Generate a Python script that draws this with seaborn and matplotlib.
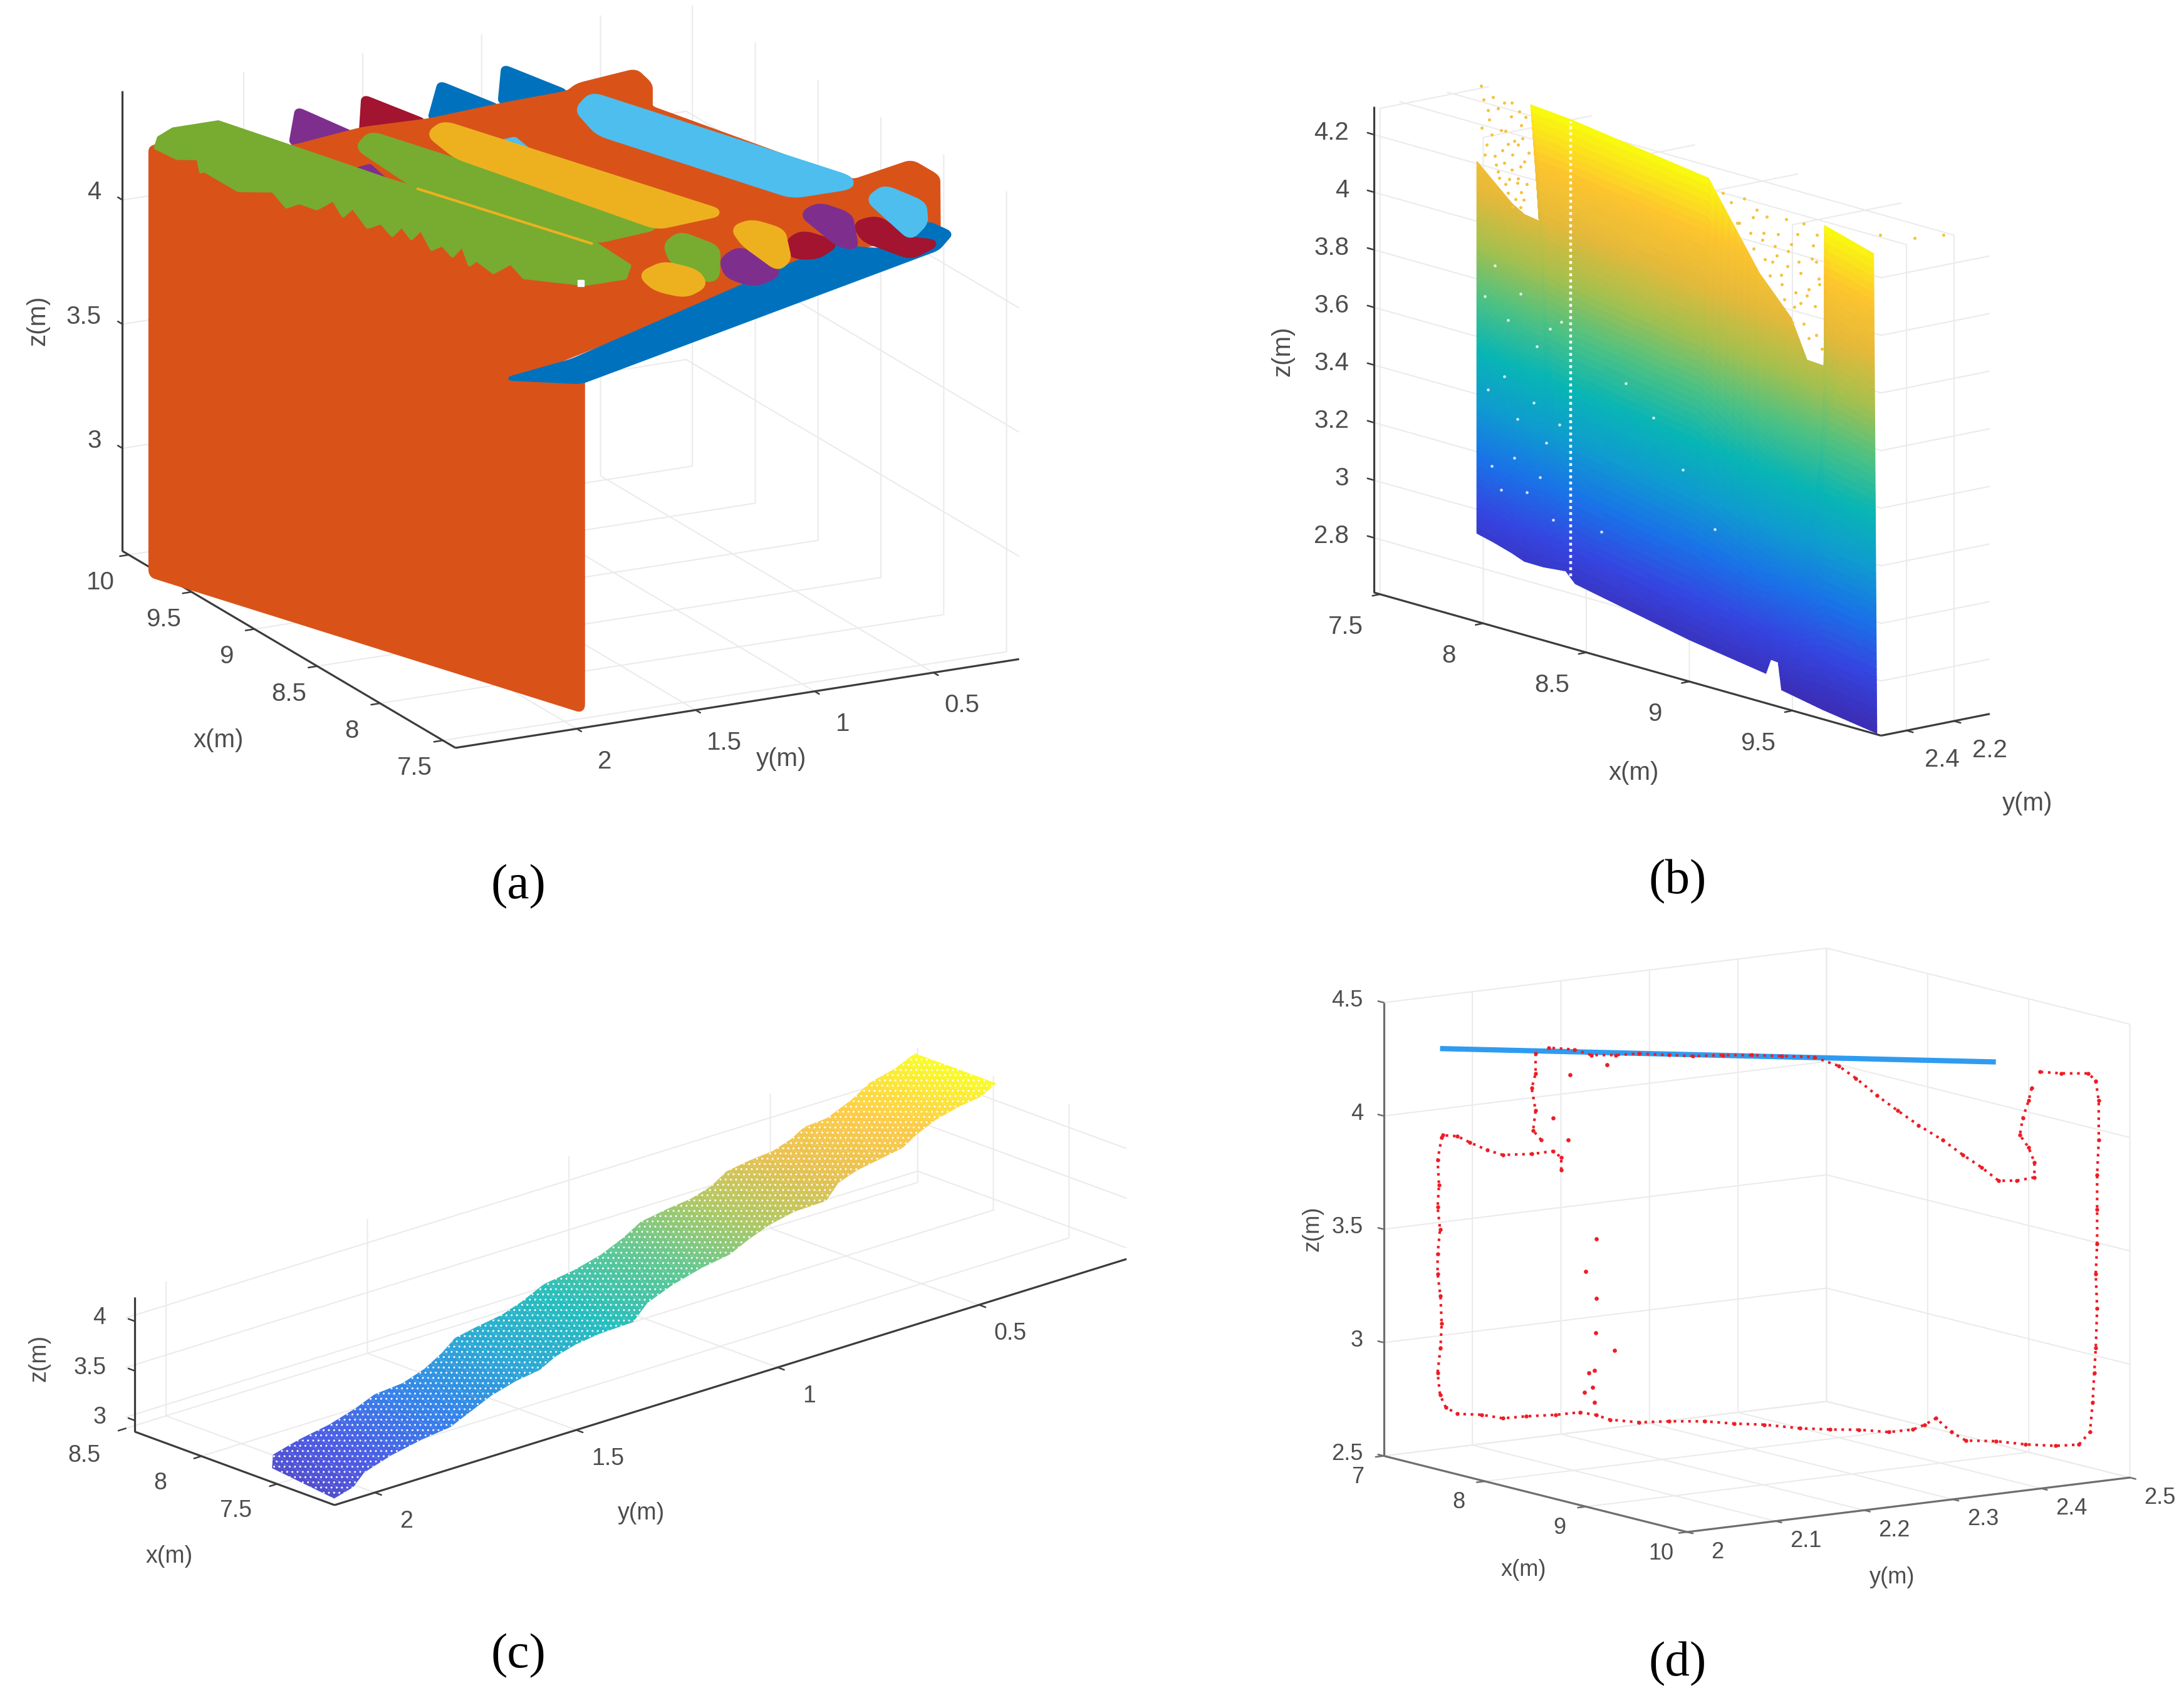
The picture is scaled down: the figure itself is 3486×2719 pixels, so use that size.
#Point cloud segmentation figure, four 3D panels

import numpy as np
from matplotlib import pyplot as plt
import seaborn as sns
from mpl_toolkits.mplot3d import proj3d
from mpl_toolkits.mplot3d.art3d import Poly3DCollection

# Panel (a) - outlines of the segmented clusters, x / y / z in metres
wall_a = ([9.72, 7.567, 7.567, 9.72], [2.562, 1.893, 1.893, 2.562], [2.6, 2.6, 3.94, 4.32])
roof_a = ([9.55, 9.60, 9.58, 9.62, 9.63, 9.68, 9.71, 9.60, 9.43, 8.67, 8.73, 8.61, 8.23, 8.18, 7.63, 8.365, 9.72],
          [2.06, 1.74, 1.47, 1.165, 0.858, 0.791, 0.534, 0.534, 0.624, 0.169, -0.109, -0.152, 0.047, 0.557, 2.17, 2.686, 2.562],
          [4.29, 4.30, 4.30, 4.30, 4.305, 4.31, 4.32, 4.30, 4.27, 4.13, 4.15, 4.12, 4.06, 4.05, 3.95, 4.08, 4.32])
strip_a = ([7.64, 7.70, 8.17, 8.23, 8.14, 8.28, 8.18, 8.09, 7.53],
           [2.17, 1.865, 0.616, 0.515, 0.317, 0.059, 0.013, 0.117, 1.914],
           [3.95, 3.96, 4.05, 4.06, 4.04, 4.07, 4.05, 4.03, 3.93])
purple_fin = ([9.59, 9.81, 9.56, 9.48], [2.04, 1.90, 1.78, 1.83], [4.30, 4.34, 4.29, 4.28])
crimson_fin = ([9.60, 9.83, 9.59, 9.52], [1.74, 1.61, 1.49, 1.55], [4.30, 4.34, 4.30, 4.285])
blue_fin_1 = ([9.62, 9.85, 9.62, 9.57], [1.44, 1.28, 1.165, 1.21], [4.30, 4.34, 4.30, 4.29])
blue_fin_2 = ([9.65, 9.89, 9.64, 9.58], [1.13, 0.99, 0.87, 0.91], [4.31, 4.35, 4.31, 4.30])
sky_long = ([9.51, 9.59, 8.69, 8.64, 8.64, 9.315], [0.881, 0.782, 0.171, 0.196, 0.44, 0.898], [4.28, 4.30, 4.14, 4.13, 4.13, 4.25])
sky_small = ([9.36, 9.37, 9.28], [1.29, 1.22, 1.21], [4.26, 4.26, 4.24])
sky_end = ([8.52, 8.59, 8.43, 8.285, 8.21], [0.18, 0.08, 0.0, 0.07, 0.17], [4.11, 4.12, 4.09, 4.07, 4.05])
yellow_long = ([9.50, 9.56, 8.60, 8.56, 9.31], [1.51, 1.42, 0.76, 1.05, 1.50], [4.28, 4.29, 4.12, 4.12, 4.25])
green_upper = ([9.48, 9.57, 8.56, 8.54, 9.11], [1.82, 1.72, 1.05, 1.32, 1.75], [4.28, 4.29, 4.12, 4.11, 4.21])
green_lower = ([9.78, 9.82, 9.82, 9.56, 9.22, 8.51, 8.32, 8.23, 8.23, 8.35, 8.475, 8.51, 8.54, 8.605, 8.67, 8.675, 8.68, 8.755, 8.83, 8.85, 8.87, 8.89, 8.91, 8.99, 9.07, 9.10, 9.13, 9.14, 9.155, 9.21, 9.27, 9.385, 9.50, 9.54, 9.58, 9.645, 9.71],
               [2.50, 2.42, 2.23, 2.055, 1.84, 1.34, 1.295, 1.36, 1.53, 1.72, 1.71, 1.765, 1.82, 1.815, 1.81, 1.85, 1.89, 1.895, 1.90, 1.93, 1.96, 1.99, 2.025, 2.04, 2.06, 2.085, 2.11, 2.175, 2.24, 2.265, 2.29, 2.375, 2.46, 2.45, 2.44, 2.495, 2.55],
               [4.33, 4.34, 4.34, 4.29, 4.23, 4.11, 4.07, 4.06, 4.06, 4.08, 4.10, 4.06, 4.11, 4.07, 4.13, 4.09, 4.14, 4.10, 4.16, 4.12, 4.17, 4.13, 4.18, 4.14, 4.20, 4.16, 4.22, 4.19, 4.22, 4.19, 4.24, 4.22, 4.28, 4.26, 4.30, 4.29, 4.32])
yellow_thin = ([9.12, 8.51], [1.76, 1.35], [4.21, 4.11])
purple_small = ([9.33, 9.35, 9.22], [1.92, 1.84, 1.84], [4.25, 4.25, 4.23])
green_blob = ([8.43, 8.49, 8.33, 8.145, 8.12, 8.31], [1.08, 0.99, 0.92, 1.02, 1.07, 1.12], [4.09, 4.10, 4.08, 4.04, 4.04, 4.07])
yellow_blob_1 = ([8.23, 8.28, 8.19, 8.10, 8.05, 8.12], [1.29, 1.17, 1.08, 1.095, 1.20, 1.29], [4.06, 4.07, 4.05, 4.03, 4.02, 4.04])
purple_blob_1 = ([8.25, 8.31, 8.18, 8.09, 8.05, 8.13], [0.94, 0.84, 0.78, 0.79, 0.91, 0.98], [4.06, 4.07, 4.05, 4.03, 4.02, 4.04])
yellow_blob_2 = ([8.46, 8.50, 8.39, 8.18, 8.13, 8.34], [0.78, 0.685, 0.615, 0.70, 0.77, 0.80], [4.10, 4.10, 4.085, 4.05, 4.04, 4.08])
crimson_blob_1 = ([8.31, 8.35, 8.235, 8.16, 8.21], [0.63, 0.55, 0.47, 0.59, 0.67], [4.07, 4.08, 4.06, 4.05, 4.05])
purple_blob_2 = ([8.50, 8.54, 8.43, 8.195, 8.23], [0.47, 0.38, 0.31, 0.41, 0.46], [4.10, 4.11, 4.09, 4.05, 4.06])
crimson_blob_2 = ([8.36, 8.38, 8.17, 8.13, 8.055, 8.24], [0.32, 0.22, 0.19, 0.10, 0.25, 0.35], [4.08, 4.08, 4.05, 4.04, 4.03, 4.06])
hole_a = ([8.24], [1.54], [4.06])

# Panel (b) - wall cloud, upper and lower edge stations
wall_top_x = [7.53, 7.63, 7.746, 7.824, 7.942, 7.863, 8.11, 8.961, 9.275, 9.471, 9.569, 9.765, 9.678, 9.98]
wall_top_y = [2.126, 2.144, 2.166, 2.181, 2.203, 2.188, 2.234, 2.393, 2.451, 2.487, 2.506, 2.542, 2.526, 2.582]
wall_top_z = [4.056, 4.011, 3.96, 3.94, 3.938, 4.33, 4.336, 4.331, 4.074, 3.964, 3.841, 3.848, 4.333, 4.306]
wall_bot_x = [7.53, 7.63, 7.746, 7.824, 7.942, 8.079, 8.138, 8.843, 9.314, 9.345, 9.392, 9.412, 9.667, 10.0]
wall_bot_y = [2.126, 2.144, 2.166, 2.181, 2.203, 2.228, 2.239, 2.371, 2.458, 2.464, 2.473, 2.476, 2.524, 2.586]
wall_bot_z = [2.765, 2.758, 2.747, 2.736, 2.744, 2.762, 2.731, 2.701, 2.694, 2.75, 2.751, 2.659, 2.65, 2.646]
gap_x = [8.11, 8.11]
gap_y = [2.234, 2.234]
gap_z = [2.75, 4.33]
# stray returns inside the window openings
stray_x = [7.557, 7.628, 7.746, 7.608, 7.706, 7.804, 7.589, 7.687, 7.785, 7.648, 7.746, 7.824, 7.706, 7.804, 7.667, 7.785,
           7.57, 7.60, 7.66, 7.70, 7.74, 7.79, 7.83, 7.56, 7.62, 7.68, 7.72, 7.76, 7.81, 7.58, 7.64, 7.70, 7.75, 7.80, 7.85, 7.66, 7.73, 7.78, 7.84, 7.72, 7.77, 7.82, 7.75, 7.80,
           9.137, 9.235, 9.294, 9.392, 9.451, 9.353, 9.51, 9.608, 9.412, 9.529, 9.627, 9.49, 9.568, 9.647, 9.549, 9.627, 10.02, 10.235, 10.41,
           9.05, 9.10, 9.18, 9.26, 9.32, 9.44, 9.55, 9.63, 9.15, 9.22, 9.30, 9.37, 9.47, 9.60, 9.24, 9.31, 9.38, 9.45, 9.52, 9.64, 9.34, 9.41, 9.50, 9.58, 9.43, 9.53, 9.62, 9.48, 9.58, 9.66]
stray_y = [2.131, 2.144, 2.166, 2.141, 2.159, 2.177, 2.137, 2.155, 2.173, 2.148, 2.166, 2.181, 2.159, 2.177, 2.152, 2.173,
           2.133, 2.139, 2.150, 2.158, 2.165, 2.174, 2.182, 2.132, 2.143, 2.154, 2.161, 2.169, 2.178, 2.135, 2.146, 2.158, 2.167, 2.176, 2.186, 2.150, 2.163, 2.173, 2.184, 2.161, 2.171, 2.180, 2.167, 2.176,
           2.425, 2.444, 2.455, 2.473, 2.484, 2.465, 2.495, 2.513, 2.476, 2.498, 2.517, 2.491, 2.506, 2.52, 2.502, 2.517, 2.59, 2.63, 2.66,
           2.409, 2.418, 2.433, 2.448, 2.459, 2.482, 2.502, 2.517, 2.428, 2.441, 2.456, 2.469, 2.487, 2.511, 2.444, 2.457, 2.470, 2.484, 2.497, 2.519, 2.463, 2.476, 2.493, 2.508, 2.480, 2.498, 2.515, 2.489, 2.508, 2.523]
stray_z = [4.324, 4.302, 4.31, 4.22, 4.204, 4.246, 4.128, 4.131, 4.173, 4.073, 4.077, 4.124, 4.019, 4.013, 4.03, 4.057,
           4.28, 4.25, 4.27, 4.30, 4.26, 4.29, 4.28, 4.18, 4.17, 4.20, 4.16, 4.18, 4.20, 4.09, 4.10, 4.09, 4.13, 4.10, 4.16, 4.05, 4.04, 4.04, 4.05, 3.99, 3.98, 3.99, 3.95, 3.96,
           4.216, 4.259, 4.195, 4.237, 4.192, 4.131, 4.264, 4.248, 4.067, 4.133, 4.195, 4.007, 4.064, 4.121, 3.963, 3.942, 4.38, 4.42, 4.47,
           4.30, 4.28, 4.31, 4.29, 4.28, 4.30, 4.31, 4.29, 4.22, 4.20, 4.22, 4.19, 4.22, 4.20, 4.15, 4.13, 4.16, 4.14, 4.17, 4.14, 4.08, 4.10, 4.06, 4.09, 4.02, 4.03, 4.04, 3.95, 3.92, 3.90]
# small dropouts in the cloud
fleck_x = [7.58, 7.64, 7.72, 7.80, 7.90, 7.98, 8.05, 7.60, 7.70, 7.78, 7.88, 7.96, 8.04, 7.62, 7.68, 7.76, 7.84, 7.92, 8.00, 8.45, 8.62, 8.80, 9.00, 8.30]
fleck_y = [2.135, 2.146, 2.161, 2.176, 2.195, 2.210, 2.223, 2.139, 2.158, 2.173, 2.191, 2.206, 2.221, 2.143, 2.154, 2.169, 2.184, 2.199, 2.214, 2.297, 2.329, 2.362, 2.400, 2.269]
fleck_z = [3.60, 3.72, 3.55, 3.66, 3.50, 3.58, 3.62, 3.28, 3.35, 3.22, 3.30, 3.18, 3.26, 3.02, 2.95, 3.08, 2.98, 3.05, 2.92, 3.50, 3.42, 3.28, 3.12, 2.95]

# Panel (c) - ceiling strip, two long edges
ceil_up_x = [7.56, 7.66, 7.70, 7.715, 7.755, 7.80, 7.79, 7.83, 7.90, 7.975, 7.99, 8.00, 8.04, 8.105, 8.11, 8.145, 8.21, 8.28, 8.29, 8.29, 8.32, 8.39, 8.395, 8.39, 8.42, 8.475, 8.47, 8.53, 8.61, 8.635, 8.69]
ceil_up_y = [2.09, 2.05, 1.97, 1.89, 1.81, 1.745, 1.68, 1.61, 1.54, 1.48, 1.42, 1.355, 1.29, 1.21, 1.135, 1.055, 0.974, 0.904, 0.834, 0.775, 0.715, 0.65, 0.587, 0.535, 0.48, 0.425, 0.37, 0.29, 0.21, 0.14, 0.07]
ceil_up_z = [3.00, 3.03, 3.06, 3.10, 3.14, 3.175, 3.21, 3.245, 3.28, 3.31, 3.34, 3.37, 3.40, 3.44, 3.48, 3.515, 3.55, 3.585, 3.62, 3.65, 3.68, 3.71, 3.745, 3.77, 3.80, 3.825, 3.85, 3.89, 3.93, 3.965, 4.00]
ceil_lo_x = [7.085, 7.11, 7.19, 7.237, 7.26, 7.26, 7.315, 7.375, 7.41, 7.415, 7.47, 7.497, 7.50, 7.475, 7.58, 7.642, 7.68, 7.69, 7.75, 7.792, 7.81, 7.785, 7.89, 7.927, 7.94, 7.95, 8.01, 8.062, 8.09, 8.095, 8.15]
ceil_lo_y = [2.114, 2.057, 2.00, 1.915, 1.83, 1.76, 1.69, 1.615, 1.54, 1.48, 1.42, 1.36, 1.30, 1.225, 1.15, 1.063, 0.976, 0.905, 0.833, 0.767, 0.70, 0.63, 0.56, 0.50, 0.435, 0.378, 0.32, 0.255, 0.19, 0.13, 0.07]
ceil_lo_z = [2.99, 3.02, 3.05, 3.09, 3.13, 3.165, 3.20, 3.235, 3.27, 3.30, 3.33, 3.36, 3.39, 3.43, 3.47, 3.51, 3.55, 3.585, 3.62, 3.655, 3.69, 3.725, 3.76, 3.79, 3.82, 3.85, 3.88, 3.91, 3.94, 3.97, 4.00]

# Panel (d) - boundary points and fitted ceiling line
outline_x = [7.984, 7.984, 7.955, 7.876, 7.765, 7.709, 7.642, 7.597, 7.541,
             7.537, 7.523, 7.528, 7.523, 7.53, 7.523, 7.523, 7.534, 7.537, 7.534, 7.523, 7.53, 7.552,
             7.597, 7.686, 7.765, 7.854, 7.966, 8.055, 8.118, 8.167, 8.279, 8.391, 8.525, 8.636, 8.748, 8.882, 8.994, 9.106, 9.218, 9.307, 9.352, 9.396,
             9.452, 9.508, 9.62, 9.732, 9.843, 9.933, 9.973,
             9.982, 9.989, 9.995, 10.0, 9.995, 10.0, 10.0, 10.0, 10.007, 10.007, 9.995, 9.966, 9.866, 9.787]
outline_y = [2.088, 2.088, 2.082, 2.067, 2.047, 2.036, 2.024, 2.015, 2.005,
             2.004, 2.001, 2.002, 2.001, 2.003, 2.001, 2.001, 2.003, 2.004, 2.003, 2.001, 2.003, 2.007,
             2.015, 2.032, 2.047, 2.063, 2.084, 2.101, 2.112, 2.122, 2.142, 2.163, 2.188, 2.209, 2.23, 2.255, 2.276, 2.296, 2.317, 2.334, 2.342, 2.35,
             2.361, 2.371, 2.392, 2.413, 2.434, 2.45, 2.458,
             2.46, 2.461, 2.462, 2.463, 2.462, 2.463, 2.463, 2.463, 2.464, 2.464, 2.462, 2.457, 2.438, 2.423]
outline_z = [3.83, 3.885, 3.912, 3.898, 3.891, 3.911, 3.943, 3.97, 3.973,
             3.962, 3.864, 3.754, 3.656, 3.558, 3.449, 3.361, 3.263, 3.143, 3.034, 2.925, 2.826, 2.772,
             2.745, 2.743, 2.729, 2.74, 2.749, 2.762, 2.752, 2.732, 2.723, 2.73, 2.733, 2.725, 2.723, 2.71, 2.707, 2.709, 2.701, 2.714, 2.736, 2.766,
             2.706, 2.67, 2.67, 2.658, 2.654, 2.662, 2.718,
             2.849, 2.98, 3.089, 3.264, 3.417, 3.548, 3.701, 3.854, 4.007, 4.181, 4.268, 4.30, 4.298, 4.303]
window_x = [9.754, 9.743, 9.72, 9.709, 9.743, 9.765, 9.765, 9.698, 9.631, 9.564, 9.497, 9.419, 9.329, 9.251, 9.173, 9.095, 9.028, 8.938,
            8.815, 8.703, 8.592, 8.48, 8.391, 8.279, 8.189, 8.1, 8.033, 7.939]
window_y = [2.417, 2.415, 2.411, 2.409, 2.415, 2.419, 2.419, 2.407, 2.394, 2.382, 2.369, 2.355, 2.338, 2.323, 2.309, 2.294, 2.282, 2.265,
            2.242, 2.221, 2.201, 2.18, 2.163, 2.142, 2.126, 2.109, 2.097, 2.079]
window_z = [4.23, 4.175, 4.098, 4.022, 3.968, 3.903, 3.837, 3.821, 3.819, 3.877, 3.93, 3.993, 4.057, 4.121, 4.184, 4.259, 4.312, 4.349,
            4.351, 4.353, 4.35, 4.343, 4.346, 4.35, 4.341, 4.339, 4.362, 4.368]
post_x = [7.888, 7.888, 7.876, 7.888, 7.881, 7.91]
post_y = [2.07, 2.07, 2.067, 2.07, 2.068, 2.074]
post_z = [4.341, 4.254, 4.188, 4.09, 4.002, 3.959]
loose_x = [8.073, 8.089, 8.111, 8.104, 8.111, 8.118, 8.078, 8.118, 8.116, 8.185, 7.955, 8.011, 8.017, 8.156]
loose_y = [2.104, 2.107, 2.111, 2.11, 2.111, 2.112, 2.105, 2.112, 2.112, 2.125, 2.082, 2.093, 2.094, 2.12]
loose_z = [2.85, 2.937, 2.949, 2.872, 2.807, 3.528, 3.385, 3.266, 3.113, 3.038, 4.059, 3.962, 4.25, 4.297]
line_x = [7.53, 9.62]
line_y = [2.003, 2.392]
line_z = [4.355, 4.343]

# ticks
xt_a, yt_a, zt_a = [7.5, 8, 8.5, 9, 9.5, 10], [0.5, 1, 1.5, 2], [3, 3.5, 4]
xt_b, yt_b, zt_b = [7.5, 8, 8.5, 9, 9.5], [2.2, 2.4], [2.8, 3, 3.2, 3.4, 3.6, 3.8, 4, 4.2]
xt_c, yt_c, zt_c = [7.5, 8, 8.5], [0.5, 1, 1.5, 2], [3, 3.5, 4]
xt_d, yt_d, zt_d = [7, 8, 9, 10], [2, 2.1, 2.2, 2.3, 2.4, 2.5], [2.5, 3, 3.5, 4, 4.5]

W, H = 3487, 2719
sns.set_theme(style='white', rc={'grid.color': '#ebebeb', 'grid.linewidth': 1.5, 'grid.linestyle': '-'})
plt.rcParams['font.family'] = 'Liberation Sans'
colors = dict(zip(['blue', 'orange', 'yellow', 'purple', 'green', 'sky', 'crimson'],
                  sns.color_palette(['#0072bd', '#d95319', '#edb120', '#7e2f8e', '#77ac30', '#4dbeee', '#a2142f'])))
parula = sns.blend_palette(['#3b2db5', '#3545e0', '#1a72e8', '#0f9bd0', '#08b5b5', '#4cc184', '#a5c04e', '#e5b93a', '#fdc52e', '#f9fb0e'], as_cmap=True)
text_col = '#4d4d4d'

fig = plt.figure(figsize=(W / 100, H / 100), dpi=100, facecolor='white')


def to_px(ax, x, y, z):
    X, Y, _ = proj3d.proj_transform(x, y, z, ax.get_proj())
    return ax.transData.transform((X, Y))


def square(ax, cx, cy, side):
    ax.set_position([(cx - side / 2) / W, (cy - side / 2) / H, side / W, side / H])
    ax.apply_aspect()


# scale per metre comes from the tick spacing, corner is where the axes meet on the floor
def make_panel(xlim, ylim, zlim, per_m, elev, azim, corner, corner_px):
    ax = fig.add_subplot(projection='3d', computed_zorder=False, proj_type='ortho')
    ax.set_xlim(xlim)
    ax.set_ylim(ylim)
    ax.set_zlim(zlim)
    ax.set_box_aspect((per_m[0] * (xlim[1] - xlim[0]), per_m[1] * (ylim[1] - ylim[0]), per_m[2] * (zlim[1] - zlim[0])))
    ax.view_init(elev, azim)
    ax.set_facecolor('none')
    side = 1500.0
    square(ax, W / 2, H / 2, side)
    a = to_px(ax, xlim[0], ylim[0], zlim[0])
    b = to_px(ax, xlim[0], ylim[0], zlim[1])
    want = per_m[2] * (zlim[1] - zlim[0]) * np.cos(np.radians(elev))
    side = side * want / abs(b[1] - a[1])
    square(ax, W / 2, H / 2, side)
    p = to_px(ax, *corner)
    square(ax, W / 2 + corner_px[0] - p[0], H / 2 + (H - corner_px[1]) - p[1], side)
    return ax


def frame(ax, xlim, ylim, zlim, xt, yt, zt, left, front, right, per_m, off_x, off_y, off_z, size, col='#3c3c3c'):
    ax.set_xticks(xt)
    ax.set_yticks(yt)
    ax.set_zticks(zt)
    for axis in (ax.xaxis, ax.yaxis, ax.zaxis):
        axis.set_ticklabels([])
        axis.line.set_color('none')
        axis.set_pane_color((1, 1, 1, 0))
        axis.pane.set_edgecolor('none')
        axis._axinfo['tick']['inward_factor'] = 0
        axis._axinfo['tick']['outward_factor'] = 0
    z0 = zlim[0]
    kw = dict(color=col, lw=2.3, zorder=1, solid_capstyle='butt')
    ax.plot([left[0], left[0]], [left[1], left[1]], zlim, **kw)
    ax.plot([left[0], front[0]], [left[1], front[1]], [z0, z0], **kw)
    ax.plot([front[0], right[0]], [front[1], right[1]], [z0, z0], **kw)
    sy = np.sign(front[1] - right[1])
    tk = dict(color=col, lw=1.8, zorder=1)
    for t in xt:
        ax.plot([t, t], [front[1], front[1] + sy * 16 / per_m[1]], [z0, z0], **tk)
        p = to_px(ax, t, front[1], z0)
        fig.text((p[0] + off_x[0]) / W, (p[1] + off_x[1]) / H, f'{t:g}', ha='center', va='center', fontsize=size, color=text_col)
    fx = np.sign(front[0] - left[0])
    for t in yt:
        ax.plot([front[0], front[0] + fx * 16 / per_m[0]], [t, t], [z0, z0], **tk)
        p = to_px(ax, front[0], t, z0)
        fig.text((p[0] + off_y[0]) / W, (p[1] + off_y[1]) / H, f'{t:g}', ha='center', va='center', fontsize=size, color=text_col)
    for t in zt:
        ax.plot([left[0], left[0] - fx * 16 / per_m[0]], [left[1], left[1]], [t, t], **tk)
        p = to_px(ax, left[0], left[1], t)
        fig.text((p[0] + off_z[0]) / W, (p[1] + off_z[1]) / H, f'{t:g}', ha='right', va='center', fontsize=size, color=text_col)


# cluster hulls have soft corners, r is how far back from a corner the curve starts (metres)
def round_corners(pts, r):
    p = np.array(pts, dtype=float).T
    if r == 0:
        return p
    out = []
    for i in range(len(p)):
        v, a, b = p[i], p[i - 1], p[(i + 1) % len(p)]
        da, db = np.linalg.norm(a - v), np.linalg.norm(b - v)
        p1 = v + (a - v) * min(r, 0.45 * da) / da
        p2 = v + (b - v) * min(r, 0.45 * db) / db
        for t in np.linspace(0, 1, 7):
            out.append((1 - t) ** 2 * p1 + 2 * t * (1 - t) * v + t ** 2 * p2)
    return np.array(out)


def blob(ax, pts, name, z, r=0.045, lw=8):
    c = colors[name]
    poly = Poly3DCollection([round_corners(pts, r)], facecolors=[c], edgecolors=[c], linewidths=lw, joinstyle='round', zorder=z)
    ax.add_collection3d(poly, autolim=False)


def sheet(ax, up, lo, zrange, nu, nv, z=3, lift=0.0, **kw):
    up, lo = np.array(up).T, np.array(lo).T
    us = np.linspace(0, 1, nu + 1)
    vs = np.linspace(0, 1, nv + 1)
    verts, vals = [], []
    for i in range(len(up) - 1):
        for u0, u1 in zip(us[:-1], us[1:]):
            for v0, v1 in zip(vs[:-1], vs[1:]):
                q = []
                for u, v in ((u0, v0), (u1, v0), (u1, v1), (u0, v1)):
                    top = up[i] * (1 - u) + up[i + 1] * u
                    low = lo[i] * (1 - u) + lo[i + 1] * u
                    q.append(top * (1 - v) + low * v)
                verts.append(q)
                vals.append(np.mean([p[2] for p in q]))
    cols = parula((np.array(vals) - zrange[0]) / (zrange[1] - zrange[0]))
    cols[:, :3] = cols[:, :3] * (1 - lift) + lift
    poly = Poly3DCollection(verts, facecolors=cols, zorder=z, **kw)
    if 'edgecolors' not in kw:
        poly.set_edgecolor(cols)
    ax.add_collection3d(poly, autolim=False)


def label(px, py, s, rot=0, size=29):
    fig.text(px / W, 1 - py / H, s, ha='center', va='center', rotation=rot, fontsize=size, color=text_col)


# (a)
lim_a = ((7.4, 10.05), (0.14, 2.51), (2.586, 4.44))
pm_a = (437.3, 427.2, 416.3)
ax = make_panel(*lim_a, pm_a, 17.76, 152.7, (7.4, 2.51, 2.586), (727, 1194))
frame(ax, *lim_a, xt_a, yt_a, zt_a, (10.05, 2.51), (7.4, 2.51), (7.4, 0.14), pm_a, (-45, -44), (45, -52), (-34, 12), 29)
blob(ax, purple_fin, 'purple', 3, r=0.02)
blob(ax, crimson_fin, 'crimson', 3, r=0.02)
blob(ax, blue_fin_1, 'blue', 3, r=0.02)
blob(ax, blue_fin_2, 'blue', 3, r=0.02)
blob(ax, roof_a, 'orange', 4, r=0.03)
blob(ax, wall_a, 'orange', 5, r=0.02)
blob(ax, strip_a, 'blue', 6, r=0.03, lw=4)
blob(ax, purple_small, 'purple', 7, r=0.01, lw=3)
blob(ax, sky_small, 'sky', 7, r=0.01, lw=3)
blob(ax, green_lower, 'green', 8, r=0, lw=5)
blob(ax, green_upper, 'green', 9)
blob(ax, yellow_long, 'yellow', 10)
blob(ax, sky_long, 'sky', 10)
blob(ax, green_blob, 'green', 11)
blob(ax, yellow_blob_1, 'yellow', 12)
blob(ax, purple_blob_1, 'purple', 12)
blob(ax, crimson_blob_1, 'crimson', 12)
blob(ax, yellow_blob_2, 'yellow', 13)
blob(ax, crimson_blob_2, 'crimson', 13)
blob(ax, purple_blob_2, 'purple', 14)
blob(ax, sky_end, 'sky', 15)
ax.plot(*yellow_thin, color=colors['yellow'], lw=3, zorder=40)
ax.plot(*hole_a, 's', color='white', ms=7, zorder=41)
label(60, 512, 'z(m)', 90)
label(349, 1182, 'x(m)')
label(1247, 1212, 'y(m)')

# (b)
lim_b = ((7.47, 9.93), (2.05, 2.507), (2.61, 4.297))
pm_b = (510.9, 496.2, 473.4)
ax = make_panel(*lim_b, pm_b, -13.75, -139.9, (7.47, 2.507, 2.61), (2193, 946))
frame(ax, *lim_b, xt_b, yt_b, zt_b, (7.47, 2.507), (9.93, 2.507), (9.93, 2.05), pm_b, (-55, -52), (57, -47), (-40, 3), 29)
sheet(ax, (wall_top_x, wall_top_y, wall_top_z), (wall_bot_x, wall_bot_y, wall_bot_z), (2.65, 4.33), 8, 60, linewidths=1.0)
ax.plot(fleck_x, fleck_y, fleck_z, 'o', color='white', alpha=0.7, ms=2.4, zorder=5)
ax.plot(gap_x, gap_y, gap_z, color='white', lw=3.2, ls=(0, (1, 1.2)), zorder=5)
ax.plot(stray_x, stray_y, stray_z, 'o', color='#f5c33b', ms=2.6, zorder=6)
label(2047, 561, 'z(m)', 90)
label(2608, 1234, 'x(m)')
label(3236, 1283, 'y(m)')

# (c)
lim_c = ((7.12, 8.44), (0.134, 2.10), (2.887, 4.24))
pm_c = (373.0, 873.5, 168.4)
ax = make_panel(*lim_c, pm_c, 19.75, 137.4, (7.12, 2.10, 2.887), (534, 2403))
frame(ax, *lim_c, xt_c, yt_c, zt_c, (8.44, 2.10), (7.12, 2.10), (7.12, 0.134), pm_c, (-66, -43), (50, -46), (-46, 5), 27)
sheet(ax, (ceil_up_x, ceil_up_y, ceil_up_z), (ceil_lo_x, ceil_lo_y, ceil_lo_z), (2.95, 4.0), 3, 1, lift=0.12,
      linewidths=0, edgecolors='white', hatch='..')
label(62, 2168, 'z(m)', 90, 27)
label(270, 2485, 'x(m)', 0, 27)
label(1024, 2416, 'y(m)', 0, 27)

# (d)
lim_d = ((7, 10), (2, 2.5), (2.5, 4.5))
pm_d = (281.4, 1725.3, 367.6)
ax = make_panel(*lim_d, pm_d, 10.12, -35.0, (10, 2, 2.5), (2693, 2446))
frame(ax, *lim_d, xt_d, yt_d, zt_d, (7, 2), (10, 2), (10, 2.5), pm_d, (-42, -34), (48, -32), (-33, 3), 26, col='#6e6e6e')
ax.plot(line_x, line_y, line_z, color='#2f9bf0', lw=6, zorder=3, solid_capstyle='butt')
for xs, ys, zs in ((outline_x, outline_y, outline_z), (window_x, window_y, window_z), (post_x, post_y, post_z)):
    ax.plot(xs, ys, zs, color='#ee1c25', lw=3, ls=(0, (1, 1.8)), zorder=4)
    ax.plot(xs, ys, zs, 'o', color='#ee1c25', ms=3.6, zorder=4)
ax.plot(loose_x, loose_y, loose_z, 'o', color='#ee1c25', ms=3.8, zorder=4)
label(2095, 1962, 'z(m)', 90, 26)
label(2432, 2507, 'x(m)', 0, 26)
label(3020, 2518, 'y(m)', 0, 26)

# captions
for px, py, s in ((827, 1416, '(a)'), (2678, 1408, '(b)'), (827, 2644, '(c)'), (2678, 2657, '(d)')):
    fig.text(px / W, 1 - py / H, s, ha='center', va='center', fontsize=57, family='Liberation Serif', color='black')

fig.savefig('out.png', dpi=100, facecolor='white')
